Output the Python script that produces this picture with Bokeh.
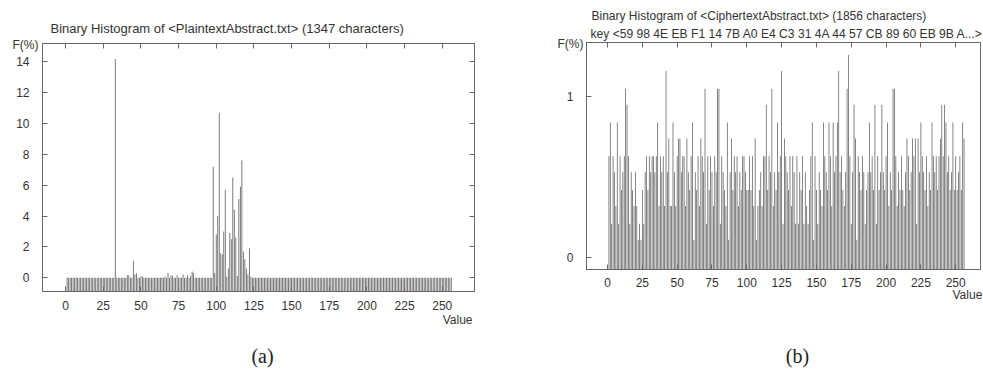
from bokeh.plotting import figure
from bokeh.layouts import row, column
from bokeh.models import Range1d, LinearAxis, FixedTicker, Title
from bokeh.core.properties import value
from bokeh.embed import file_html
from bokeh.resources import INLINE

# ---------------- data ----------------
byte_values = list(range(256))                 # byte value 0..255
bar_positions = [b + 1 for b in byte_values]   # plotted 1..256 as in the source tool
x_ticks = [0, 25, 50, 75, 100, 125, 150, 175, 200, 225, 250]

# plaintext: non-zero frequencies (%) by byte code
plain_codes = [32, 40, 41, 44, 45, 46, 49, 50, 65, 67, 69, 70, 73, 77, 80, 82, 83, 84,
               97, 98, 99, 100, 101, 102, 103, 104, 105, 106, 107, 108, 109, 110,
               111, 112, 113, 114, 115, 116, 117, 118, 119, 120, 121, 122]
plain_freqs = [14.2, 0.15, 0.15, 1.1, 0.2, 0.3, 0.07, 0.07, 0.07, 0.3, 0.15, 0.1, 0.15, 0.2, 0.15, 0.1, 0.4, 0.3,
               7.2, 0.3, 2.8, 4.0, 10.7, 1.6, 1.5, 3.0, 5.7, 0.05, 0.6, 2.9, 2.5, 6.5,
               4.4, 2.6, 0.1, 5.1, 5.9, 7.6, 1.7, 1.2, 0.6, 0.2, 1.9, 0.05]
plain_yticks = [0, 2, 4, 6, 8, 10, 12, 14]

# ciphertext: frequencies (%) for bytes 0..255
cipher_freqs = [
    0.63, 0.84, 0.21, 0.63, 0.53, 0.32, 0.84, 0.21, 0.63, 0.42, 0.53, 0.63, 1.05, 0.95, 0.63, 0.21,
    0.53, 0.42, 0.32, 0.53, 0.32, 0.11, 0.21, 0.11, 0.42, 0.21, 0.53, 0.63, 0.42, 0.63, 0.53, 0.63,
    0.63, 0.53, 0.63, 0.84, 0.32, 0.63, 0.53, 0.63, 0.32, 1.16, 0.53, 0.74, 0.32, 0.32, 0.84, 0.53,
    0.32, 0.63, 0.74, 0.74, 0.53, 0.63, 0.63, 0.32, 0.74, 0.53, 0.42, 0.63, 0.84, 0.11, 0.53, 0.42,
    0.63, 0.32, 0.74, 0.63, 0.53, 1.05, 0.21, 0.63, 0.42, 0.63, 0.53, 0.32, 0.63, 0.53, 1.05, 1.05,
    0.21, 0.63, 0.53, 0.42, 0.32, 0.84, 0.11, 0.53, 0.74, 0.42, 0.63, 0.53, 0.63, 0.32, 0.53, 0.42,
    0.63, 0.63, 0.53, 0.42, 0.42, 0.63, 0.42, 0.63, 0.32, 0.74, 0.11, 0.32, 0.42, 0.53, 0.32, 0.63,
    0.63, 0.95, 0.42, 0.63, 0.53, 1.05, 0.32, 0.53, 0.42, 0.84, 0.53, 0.63, 1.16, 0.21, 0.74, 0.63,
    0.53, 0.42, 0.63, 0.32, 0.63, 0.53, 0.21, 0.63, 0.21, 0.53, 0.42, 0.63, 0.21, 0.53, 0.32, 0.21,
    0.42, 0.63, 0.84, 0.11, 0.63, 0.42, 0.21, 0.53, 0.42, 0.32, 0.84, 0.63, 0.53, 0.42, 0.84, 0.63,
    0.32, 0.84, 0.53, 0.63, 0.84, 1.16, 0.53, 0.63, 0.42, 0.32, 0.53, 1.05, 1.26, 0.63, 0.21, 0.53,
    0.95, 0.74, 0.11, 0.63, 0.53, 0.42, 0.63, 0.53, 0.21, 0.42, 0.53, 0.84, 0.53, 0.63, 0.42, 0.95,
    0.21, 0.63, 0.42, 0.53, 0.95, 0.53, 0.42, 0.63, 0.84, 0.32, 0.53, 0.42, 1.05, 1.05, 0.63, 0.32,
    0.53, 0.42, 0.63, 0.42, 0.32, 0.53, 0.74, 0.63, 0.42, 0.53, 0.74, 0.63, 0.74, 0.21, 0.74, 0.53,
    0.84, 0.63, 0.53, 0.42, 0.63, 0.32, 0.53, 0.42, 0.84, 0.63, 0.53, 0.63, 0.42, 0.63, 0.74, 0.95,
    0.63, 0.95, 0.84, 0.53, 0.63, 0.42, 0.53, 0.84, 0.42, 0.63, 0.42, 0.53, 0.63, 0.42, 0.84, 0.74,
]
cipher_yticks = [0, 1]

plain_title = "Binary Histogram of <PlaintextAbstract.txt> (1347 characters)"
cipher_title = "Binary Histogram of <CiphertextAbstract.txt> (1856 characters)"
cipher_key = "key <59 98 4E EB F1 14 7B A0 E4 C3 31 4A 44 57 CB 89 60 EB 9B A...>"
captions = ["(a)", "(b)"]

# ---------------- styling ----------------
FONT = "Liberation Sans"
TXT = "#333333"
FRAME = "#666666"
BAR = "#606060"
ROW_H = 335

plain_full = [0.0] * 256
for c, f in zip(plain_codes, plain_freqs):
    plain_full[c] = f


def base_fig(width, xr, yr, ml, mr, mt, mb):
    p = figure(width=width, height=ROW_H, x_range=Range1d(*xr), y_range=Range1d(*yr),
               output_backend="svg", toolbar_location=None,
               min_border_left=ml, min_border_right=mr, min_border_top=mt, min_border_bottom=mb,
               x_axis_location=None, y_axis_location=None)
    if "frame_align" in p.properties():
        p.frame_align = False
    p.xgrid.visible = False
    p.ygrid.visible = False
    p.outline_line_color = FRAME
    p.outline_line_width = 1
    return p


def add_axes(p, yticks, sides, xstand, ystand):
    for side in sides:
        ticks = x_ticks if side in ("below", "above") else yticks
        ax = LinearAxis(ticker=FixedTicker(ticks=ticks))
        ax.axis_line_color = FRAME
        ax.major_tick_line_color = FRAME
        ax.major_tick_in = 5
        ax.major_tick_out = 0
        ax.minor_tick_in = 0
        ax.minor_tick_out = 0
        ax.minor_tick_line_color = None
        if side in ("below", "left"):
            ax.major_label_text_font = FONT
            ax.major_label_text_font_size = "12px"
            ax.major_label_text_color = TXT
            ax.major_label_standoff = xstand if side == "below" else ystand
        else:
            # mirrored frame ticks only (gnuplot style), no labels
            ax.major_label_text_font_size = "1px"
            ax.major_label_text_color = None
            ax.major_label_standoff = 0
        p.add_layout(ax, side)


def title(p, text, side, align, offset, standoff, valign, size="12px"):
    p.add_layout(Title(text=text, align=align, offset=offset, standoff=standoff,
                       vertical_align=valign, text_font=FONT, text_font_size=size,
                       text_font_style="normal", text_color=TXT), side)


# ---------------- panel (a) ----------------
ya0 = -0.9
p1 = base_fig(500, (-15.3, 271.4), (ya0, 15.2), 42, 26, 43, ROW_H - 291)
add_axes(p1, plain_yticks, ("below", "left", "above", "right"), 9, 13)
p1.vbar(x=bar_positions, top=plain_full, bottom=ya0, width=0.55, fill_color=BAR, line_color=None)
title(p1, "F(%)", "above", "left", -30, -16, "bottom")
title(p1, plain_title, "above", "left", 8, 15, "bottom", "13px")
title(p1, "Value", "below", "right", 2, 0, "top")

# ---------------- panel (b) ----------------
yb0 = -0.075
p2 = base_fig(483, (-15.1, 267.8), (yb0, 1.337), 86, 3, 42, ROW_H - 269)
add_axes(p2, cipher_yticks, ("below", "left", "above"), 8, 13)
p2.vbar(x=bar_positions, top=cipher_freqs, bottom=yb0, width=0.55, fill_color=BAR, line_color=None)
title(p2, "F(%)", "above", "left", -29, -16, "bottom")
title(p2, cipher_key, "above", "left", 4, 4, "bottom", "12.1px")
title(p2, cipher_title, "above", "left", 5, 0, "bottom")
title(p2, "Value", "below", "left", 366, -4, "top")

# ---------------- captions ----------------
p3 = figure(width=983, height=385 - ROW_H, x_range=Range1d(0, 983), y_range=Range1d(0, 385 - ROW_H),
            output_backend="svg", toolbar_location=None, min_border=0,
            x_axis_location=None, y_axis_location=None)
p3.xgrid.visible = False
p3.ygrid.visible = False
p3.outline_line_color = None
p3.text(x=[262, 797], y=[30, 30], text=captions, text_font=value("Liberation Serif"),
        text_font_size="20px", text_color="#222222", text_align="center", text_baseline="middle")

layout = column(row(p1, p2), p3)
open("out.html", "w").write(file_html(layout, INLINE))
